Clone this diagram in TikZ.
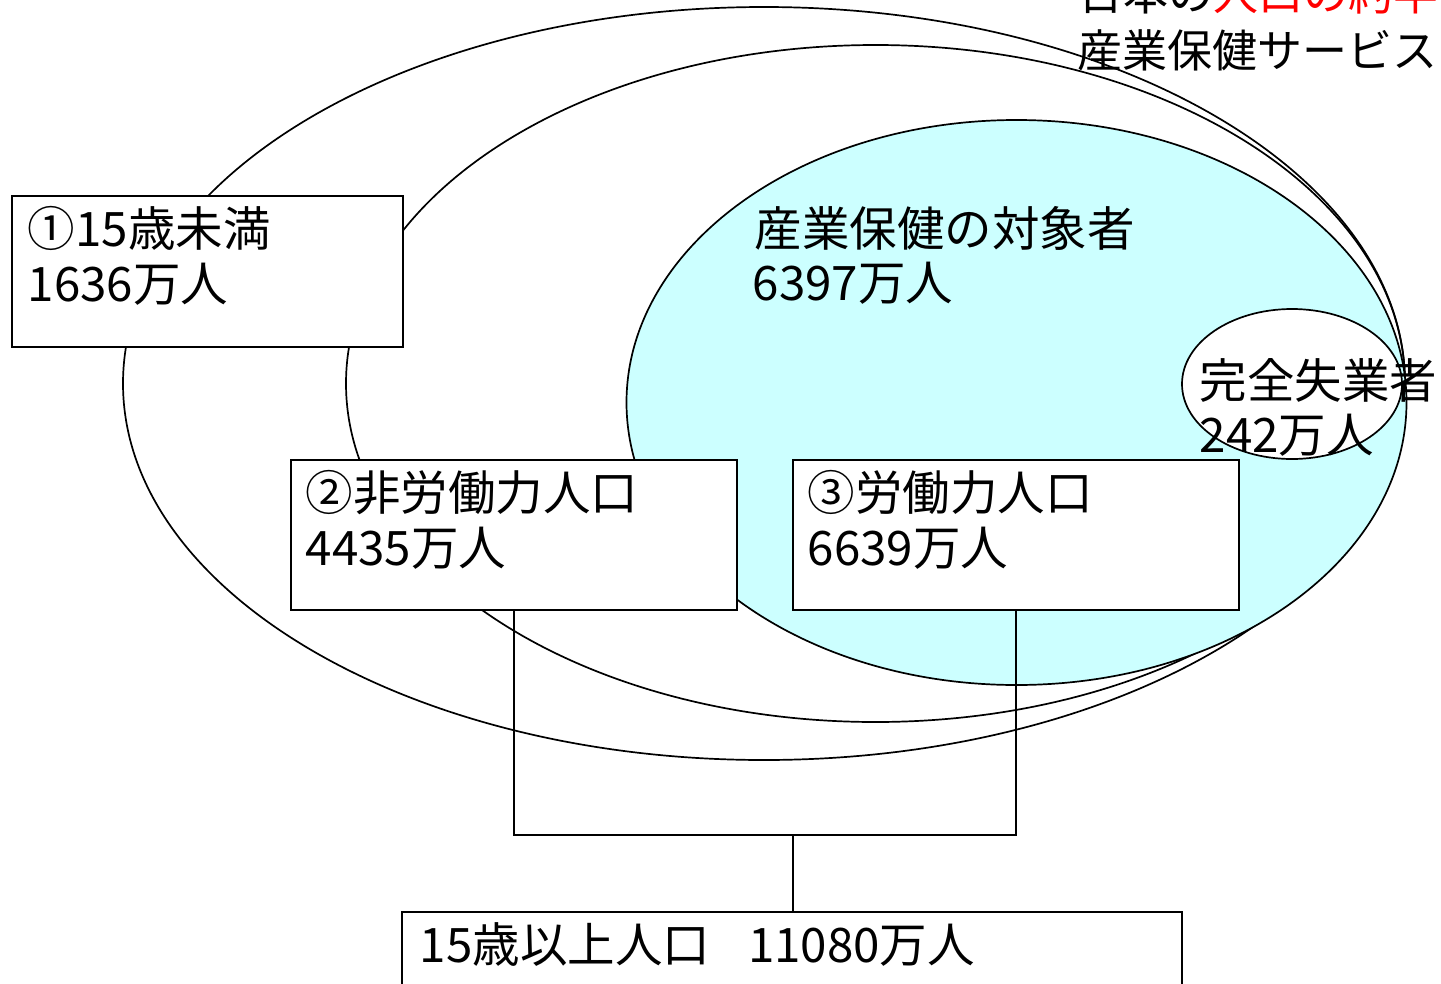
\documentclass[tikz,border=0pt]{standalone}
\usepackage{fontspec}
\setmainfont{Noto Sans CJK JP}
\definecolor{lightcyan}{HTML}{CCFFFF}
\definecolor{redtext}{HTML}{FF0000}
\begin{document}
\begin{tikzpicture}[x=1pt,y=-1pt,
  line width=1.7pt,
  label/.style={anchor=base west,inner sep=0pt,font=\fontsize{47.5}{56}\selectfont},
  toplabel/.style={label,font=\fontsize{45}{54}\selectfont},
  boxnode/.style={draw,fill=white,inner sep=0pt}
]
\useasboundingbox (0,0) rectangle (1441,983);
% ellipses
\draw (764,383.5) ellipse [x radius=641pt, y radius=376.5pt];
\draw (875.5,383.5) ellipse [x radius=529.5pt, y radius=338.5pt];
\draw[fill=lightcyan] (1016.5,402.5) ellipse [x radius=390pt, y radius=282.5pt];
\draw[fill=white] (1292,384) ellipse [x radius=110pt, y radius=75pt];
% boxes
\node[boxnode,minimum width=391pt,minimum height=151pt] (b1) at (207.5,271.5) {};
\node[boxnode,minimum width=446pt,minimum height=150pt] (b2) at (514,535) {};
\node[boxnode,minimum width=446pt,minimum height=150pt] (b3) at (1016,535) {};
\node[boxnode,minimum width=780pt,minimum height=150pt] (b4) at (792,987) {};
% connectors
\coordinate (j) at (793,835);
\draw (b2.south) |- (j) -| (b3.south);
\draw (j) -- (j |- b4.north);
% texts
\node[label] (t1a) at (27,246) {①15歳未満};
\node[label] (t1b) at (27,301) {1636万人};
\node[label] (t2a) at (305,510) {②非労働力人口};
\node[label] (t2b) at (305,565) {4435万人};
\node[label] (t3a) at (807,510) {③労働力人口};
\node[label] (t3b) at (807,565) {6639万人};
\node[label] (tca) at (754,246) {産業保健の対象者};
\node[label] (tcb) at (752,300) {6397万人};
\node[label] (tua) at (1199,398) {完全失業者};
\node[label] (tub) at (1199,452) {242万人};
\node[label] (t4) at (419,962) {15歳以上人口\hspace{0.8em}11080万人};
\node[toplabel] (tra) at (1078,10) {日本の\textcolor{redtext}{人口の約半分}};
\node[toplabel] (trb) at (1077,67) {産業保健サービス};
\end{tikzpicture}
\end{document}
